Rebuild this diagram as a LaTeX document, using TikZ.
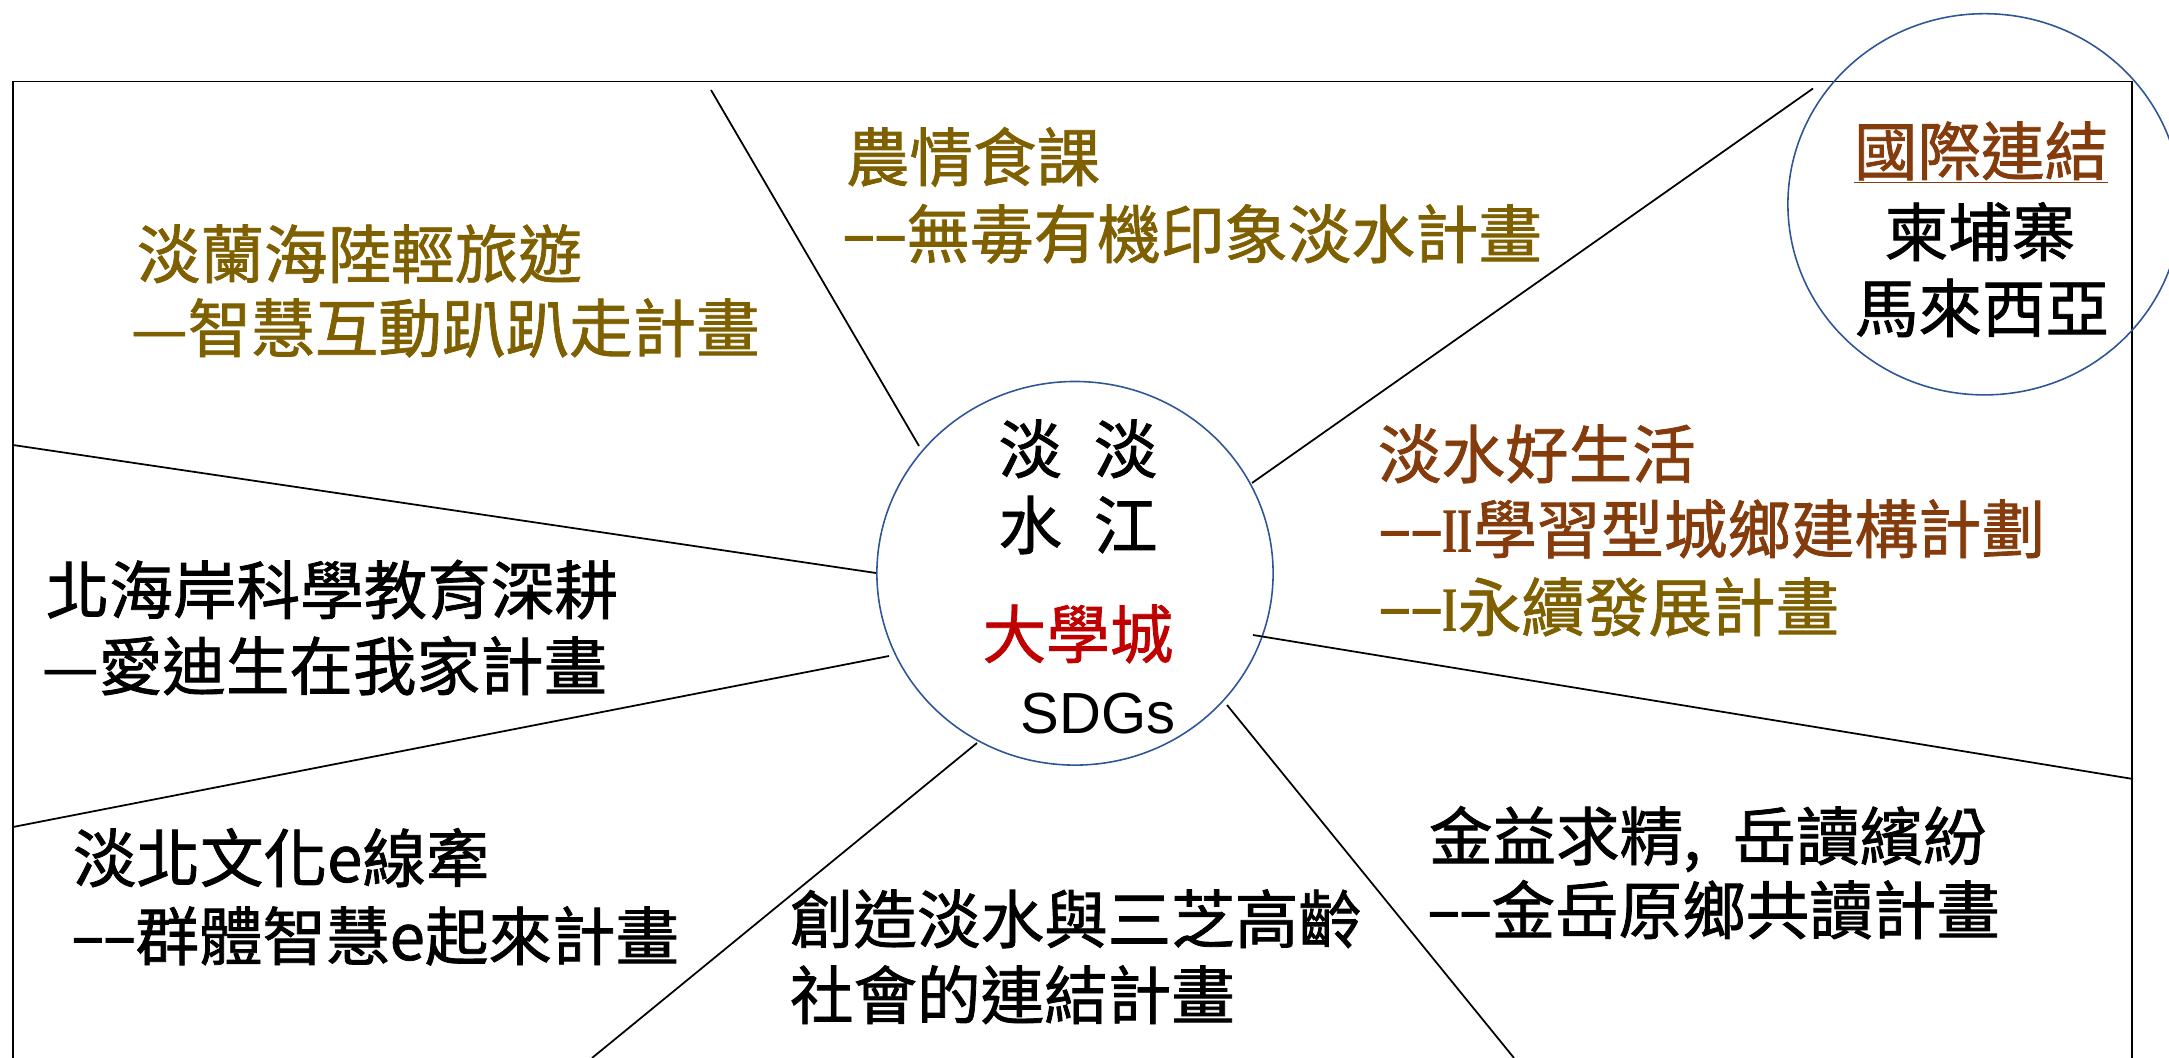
\documentclass[tikz,border=0pt]{standalone}
\usepackage{graphicx}
\usepackage{fontspec}
\setmainfont{Noto Sans CJK TC}[FakeBold=1.2]
\newfontfamily\latinsans{Liberation Sans}
\newfontfamily\romanserif{Liberation Serif}[FakeStretch=0.62]
\usetikzlibrary{shapes.geometric}
\definecolor{tgold}{RGB}{127,96,0}
\definecolor{tbrown}{RGB}{132,60,12}
\definecolor{tred}{RGB}{192,0,0}
\definecolor{hubblue}{RGB}{47,85,151}
\newcommand{\onedash}{\makebox[0.5em]{\scalebox{0.97}[1.1]{–}}}
\newcommand{\dd}{\onedash\onedash}
\begin{document}
\begin{tikzpicture}[x=0.01cm,y=-0.01cm,
  txt/.style={anchor=base west, inner sep=0pt, outer sep=0pt, font=\fontsize{18.07pt}{21pt}\selectfont},
  ctxt/.style={anchor=base, inner sep=0pt, outer sep=0pt, font=\fontsize{18.07pt}{21pt}\selectfont},
  spoke/.style={line width=0.5pt, black},
  ring/.style={draw=hubblue, line width=0.45pt, ellipse, inner sep=0pt, outer sep=0pt}]
\useasboundingbox (0,0) rectangle (2169,1058);
\clip (0,0) rectangle (2169,1058);
% frame
\draw[line width=0.55pt] (12.6,81.5) rectangle (2132,1100);
% circles
\node[ring, minimum width=3.96cm, minimum height=3.834cm] (hub) at (1075,573.3) {};
\node[ring, minimum width=3.93cm, minimum height=3.81cm] (intl) at (1984.5,204.3) {};
% spoke end points
\coordinate (s1a) at (919,446);  \coordinate (s1b) at (711,90);
\coordinate (s2a) at (876,573);  \coordinate (s2b) at (13,445);
\coordinate (s3a) at (889,656);  \coordinate (s3b) at (13,827);
\coordinate (s4a) at (977,743);  \coordinate (s4b) at (592,1058);
\coordinate (s5a) at (1227,705); \coordinate (s5b) at (1514,1058);
\coordinate (s6a) at (1253,635); \coordinate (s6b) at (2133,779);
\coordinate (s7a) at (1252,483); \coordinate (s7b) at (1813,88.5);
\draw[spoke] (s1a) -- (s1b);
\draw[spoke] (s2a) -- (s2b);
\draw[spoke] (s3a) -- (s3b);
\draw[spoke] (s4a) -- (s4b);
\draw[spoke] (s5a) -- (s5b);
\draw[spoke] (s6a) -- (s6b);
\draw[spoke] (s7a) -- (s7b);
% hub text
\node[ctxt] (h1) at (1078,473) {淡\hspace{0.5em}淡};
\node[ctxt] (h2) at (1078,549) {水\hspace{0.5em}江};
\node[ctxt, text=tred] (h3) at (1078,658) {大學城};
\node[anchor=base west, inner sep=0pt, font=\latinsans\fontsize{16.5pt}{20pt}\selectfont] (h4) at (1020,733) {SDGs};
% international
\node[ctxt, text=tbrown] (i1) at (1981,175) {國際連結};
\draw[tbrown, line width=0.45pt] ([yshift=-0.076cm]i1.base west) -- ([yshift=-0.076cm]i1.base east);
\node[ctxt] (i2) at (1980,256) {柬埔寨};
\node[ctxt] (i3) at (1982,332) {馬來西亞};
% project texts
\node[txt, text=tgold] (a1) at (137,278) {淡蘭海陸輕旅遊};
\node[txt, text=tgold] (a2) at (131,352) {—智慧互動趴趴走計畫};
\node[txt, text=tgold] (b1) at (846,181) {農情食課};
\node[txt, text=tgold] (b2) at (843,258) {\dd 無毒有機印象淡水計畫};
\node[txt] (c1) at (46,614) {北海岸科學教育深耕};
\node[txt] (c2) at (42,690) {—愛迪生在我家計畫};
\node[txt] (d1) at (73,882) {淡北文化e線牽};
\node[txt] (d2) at (72,960) {\dd 群體智慧e起來計畫};
\node[txt] (e1) at (790,943) {創造淡水與三芝高齡};
\node[txt] (e2) at (790,1019) {社會的連結計畫};
\node[txt] (f1) at (1429,860) {金益求精,\hspace{0.5em}岳讀繽紛};
\node[txt] (f2) at (1428,934) {\dd 金岳原鄉共讀計畫};
\node[txt, text=tbrown] (g1) at (1378,478) {淡水好生活};
\node[txt, text=tbrown] (g2) at (1379,553) {\dd{\romanserif\bfseries II}學習型城鄉建構計劃};
\node[txt, text=tgold] (g3) at (1379,631) {\dd{\romanserif\bfseries I}永續發展計畫};
\end{tikzpicture}
\end{document}
